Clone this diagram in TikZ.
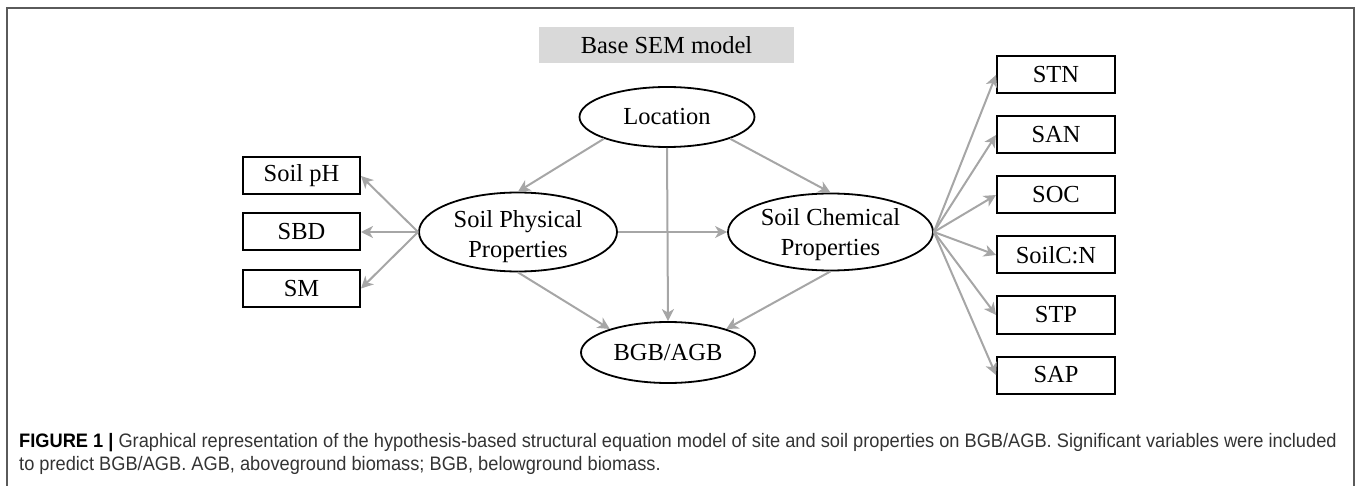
\documentclass[tikz,border=0pt]{standalone}
\usepackage{fontspec}
\setmainfont{Liberation Serif}
\newfontfamily\capfont[FakeStretch=0.935]{Liberation Sans}
\usetikzlibrary{arrows.meta,shapes.geometric}
\definecolor{arrowgray}{HTML}{A6A6A6}
\definecolor{titlegray}{HTML}{D9D9D9}
\definecolor{framegray}{HTML}{5A5A5A}
\definecolor{capgray}{HTML}{333333}
\tikzset{
  lat/.style={draw=black, ellipse, line width=1.8pt, inner sep=0pt},
  lattext/.style={inner sep=0pt, align=center, font=\fontsize{24.5}{30}\selectfont},
  obs/.style={draw=black, rectangle, line width=2pt, inner sep=0pt,
    minimum width=117, minimum height=37, font=\fontsize{24.5}{30}\selectfont},
  path/.style={draw=arrowgray, line width=2pt,
    -{Stealth[length=12pt,width=12pt,inset=3.5pt]}},
  captext/.style={anchor=base west, inner sep=0pt, font=\capfont\fontsize{19.5}{22}\selectfont, text=capgray}
}
\begin{document}
\begin{tikzpicture}[x=1pt,y=-1pt]
\useasboundingbox (0,0) rectangle (1357,486);
\draw[framegray, line width=1.6pt] (7,486) -- (7,8) -- (1354,8) -- (1354,486);

\node[fill=titlegray, minimum width=255, minimum height=36, inner sep=0pt,
  font=\fontsize{24.5}{30}\selectfont] (title) at (666.5,45) {Base SEM model};

\node[lat, minimum width=175, minimum height=60, font=\fontsize{24.5}{30}\selectfont] (loc) at (667,117) {Location};
\node[lat, minimum width=198, minimum height=79] (phys) at (518,232) {};
\node[lattext] (physlbl) at (518,237) {Soil Physical\\Properties};
\node[lat, minimum width=205, minimum height=77] (chem) at (830.5,232) {};
\node[lattext] (chemlbl) at (830.5,235) {Soil Chemical\\Properties};
\node[lat, minimum width=174, minimum height=61, font=\fontsize{24.5}{30}\selectfont] (bgb) at (668,352.5) {BGB/AGB};

\node[obs] (ph) at (301.5,176) {Soil pH};
\node[obs] (sbd) at (301.5,232) {SBD};
\node[obs] (sm) at (301.5,288.5) {SM};

\node[obs, minimum width=118] (stn) at (1056,75) {STN};
\node[obs, minimum width=118] (san) at (1056,135) {SAN};
\node[obs, minimum width=118] (soc) at (1056,195) {SOC};
\node[obs, minimum width=118] (scn) at (1056,255) {SoilC:N};
\node[obs, minimum width=118] (stp) at (1056,315) {STP};
\node[obs, minimum width=118] (sap) at (1056,375) {SAP};

\draw[path] (loc.199) -- (phys.north);
\draw[path] (loc.-19) -- (chem.north);
\draw[path] (loc.south) -- (bgb.north);
\draw[path] (phys.east) -- (chem.west);
\draw[path] (phys.south) -- (bgb.158);
\draw[path] (chem.south) -- (bgb.22);

\foreach \b in {ph,sbd,sm} \draw[path] (phys.west) -- (\b.east);
\foreach \b in {stn,san,soc,scn,stp,sap} \draw[path] (chem.east) -- (\b.west);

\node[captext] (cap1) at (19,447) {\textcolor{black}{\bfseries FIGURE 1 |} Graphical representation of the hypothesis-based structural equation model of site and soil properties on BGB/AGB. Significant variables were included};
\node[captext] (cap2) at (19,470) {to predict BGB/AGB. AGB, aboveground biomass; BGB, belowground biomass.};
\end{tikzpicture}
\end{document}
